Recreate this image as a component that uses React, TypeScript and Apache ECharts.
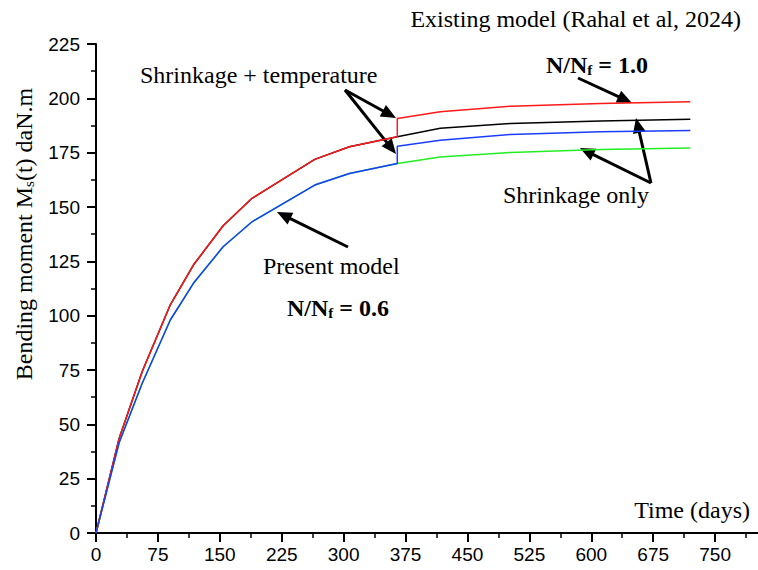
import React, { useEffect, useRef } from "react";
import * as echarts from "echarts";

// ---- Data ----
const daysEarly = [0, 28, 56, 90, 118, 154, 189, 265, 307, 365];
const upperEarly = [0, 43.5, 74.3, 105, 123.3, 141.4, 154, 171.9, 177.7, 182.3]; // N/Nf = 1.0 before 365 d
const lowerEarly = [0, 41.5, 68.9, 98, 114.9, 131.7, 143.2, 160.1, 165.4, 170]; // N/Nf = 0.6 before 365 d
const daysLate = [365, 417, 502, 611, 720];
const redLate = [190.7, 193.8, 196.4, 197.6, 198.4]; // shrinkage + temperature, existing
const blackLate = [182.3, 186.2, 188.4, 189.6, 190.4]; // shrinkage only, existing
const blueLate = [178, 180.7, 183.4, 184.6, 185.2]; // shrinkage + temperature, present
const greenLate = [170, 173, 175.1, 176.5, 177.2]; // shrinkage only, present

const xTicks = { min: 0, max: 825, interval: 75 };
const yTicks = { min: 0, max: 225, interval: 25 };
const lastXLabel = 750;

const zip = (xs: number[], ys: number[]) => xs.map((x, i) => [x, ys[i]]);

const serif = "'Liberation Serif', 'Times New Roman', serif";
const sans = "'Liberation Sans Narrow', 'Arial Narrow', 'Liberation Sans', Arial, sans-serif";

function arrow(x1: number, y1: number, x2: number, y2: number) {
  const dx = x2 - x1;
  const dy = y2 - y1;
  const len = Math.hypot(dx, dy);
  const ux = dx / len;
  const uy = dy / len;
  const L = 15;
  const W = 6.5;
  const bx = x2 - ux * L;
  const by = y2 - uy * L;
  return [
    {
      type: "line",
      shape: { x1, y1, x2: bx + ux * 3, y2: by + uy * 3 },
      style: { stroke: "#000", lineWidth: 3 },
      silent: true,
    },
    {
      type: "polygon",
      shape: {
        points: [
          [x2, y2],
          [bx - uy * W, by + ux * W],
          [bx + uy * W, by - ux * W],
        ],
      },
      style: { fill: "#000" },
      silent: true,
    },
  ];
}

function label(text: string, x: number, y: number, align: string, extra: any = {}) {
  return {
    type: "text",
    x,
    y,
    silent: true,
    style: {
      text,
      fontFamily: serif,
      fontSize: 24,
      fill: "#000",
      align,
      textAlign: align,
      verticalAlign: "middle",
      textVerticalAlign: "middle",
      ...extra,
    },
  };
}

const ratioRich = {
  b: { fontFamily: serif, fontSize: 24, fontWeight: "bold", fill: "#000", lineHeight: 26, verticalAlign: "bottom" },
  sub: { fontFamily: serif, fontSize: 15, fontWeight: "bold", fill: "#000", lineHeight: 16, verticalAlign: "bottom" },
};

export default function App() {
  const ref = useRef<HTMLDivElement>(null);

  useEffect(() => {
    document.body.style.margin = "0";
    if (!ref.current) return;
    const chart = echarts.init(ref.current, undefined, { renderer: "svg" });

    const series = [
      { name: "black", color: "#000000", data: [...zip(daysEarly, upperEarly), ...zip(daysLate, blackLate)] },
      { name: "green", color: "#22ee22", data: [...zip(daysEarly, lowerEarly), ...zip(daysLate, greenLate)] },
      { name: "red", color: "#ff1a1a", data: [...zip(daysEarly, upperEarly), ...zip(daysLate, redLate)] },
      { name: "blue", color: "#1a3cff", data: [...zip(daysEarly, lowerEarly), ...zip(daysLate, blueLate)] },
    ].map((s) => ({
      type: "line",
      name: s.name,
      data: s.data,
      showSymbol: false,
      symbol: "none",
      lineStyle: { color: s.color, width: 1.5 },
      itemStyle: { color: s.color },
      silent: true,
    }));

    const axisCommon = {
      axisLine: { show: true, onZero: false, lineStyle: { color: "#000", width: 2 } },
      axisTick: { show: true, length: 9, lineStyle: { color: "#000", width: 2 } },
      minorTick: { show: true, splitNumber: 2, length: 5, lineStyle: { color: "#000", width: 1.5 } },
      splitLine: { show: false },
      minorSplitLine: { show: false },
    };

    chart.setOption({
      animation: false,
      backgroundColor: "#ffffff",
      grid: {
        left: 96,
        top: 44,
        right: -19,
        bottom: 37,
        containLabel: false,
        outerBoundsMode: "none",
      },
      xAxis: {
        type: "value",
        ...xTicks,
        ...axisCommon,
        axisLabel: {
          color: "#000",
          fontFamily: sans,
          fontSize: 19,
          margin: 12,
          formatter: (v: number) => (v > lastXLabel ? "" : String(v)),
        },
      },
      yAxis: {
        type: "value",
        ...yTicks,
        ...axisCommon,
        axisLabel: {
          color: "#000",
          fontFamily: sans,
          fontSize: 19,
          margin: 16,
        },
      },
      series,
      graphic: [
        label("Existing model (Rahal et al, 2024)", 741, 19, "right"),
        {
          type: "text",
          x: 546,
          y: 64,
          silent: true,
          style: {
            text: "{b|N/N}{sub|f}{b| = 1.0}",
            rich: ratioRich,
            align: "left",
            textAlign: "left",
            verticalAlign: "middle",
            textVerticalAlign: "middle",
          },
        },
        label("Shrinkage + temperature", 140, 75, "left"),
        label("Shrinkage only", 503, 195, "left"),
        label("Present model", 263, 266, "left"),
        {
          type: "text",
          x: 287,
          y: 307,
          silent: true,
          style: {
            text: "{b|N/N}{sub|f}{b| = 0.6}",
            rich: ratioRich,
            align: "left",
            textAlign: "left",
            verticalAlign: "middle",
            textVerticalAlign: "middle",
          },
        },
        label("Time (days)", 750, 510, "right"),
        {
          type: "text",
          x: 23,
          y: 234,
          rotation: Math.PI / 2,
          silent: true,
          style: {
            text: "{m|Bending moment M}{s|s}{m|(t) daN.m}",
            rich: {
              m: { fontFamily: serif, fontSize: 24, fill: "#000", lineHeight: 26, verticalAlign: "bottom" },
              s: { fontFamily: serif, fontSize: 15, fill: "#000", lineHeight: 16, verticalAlign: "bottom" },
            },
            align: "center",
            textAlign: "center",
            verticalAlign: "middle",
            textVerticalAlign: "middle",
          },
        },
        ...arrow(578, 78, 632, 103),
        ...arrow(345, 90, 396, 118),
        ...arrow(345, 90, 396, 154),
        ...arrow(651, 183, 636, 118),
        ...arrow(651, 183, 580, 148),
        ...arrow(348, 247, 277, 212),
      ],
    });

    return () => chart.dispose();
  }, []);

  return <div ref={ref} style={{ width: 758, height: 570 }} />;
}
